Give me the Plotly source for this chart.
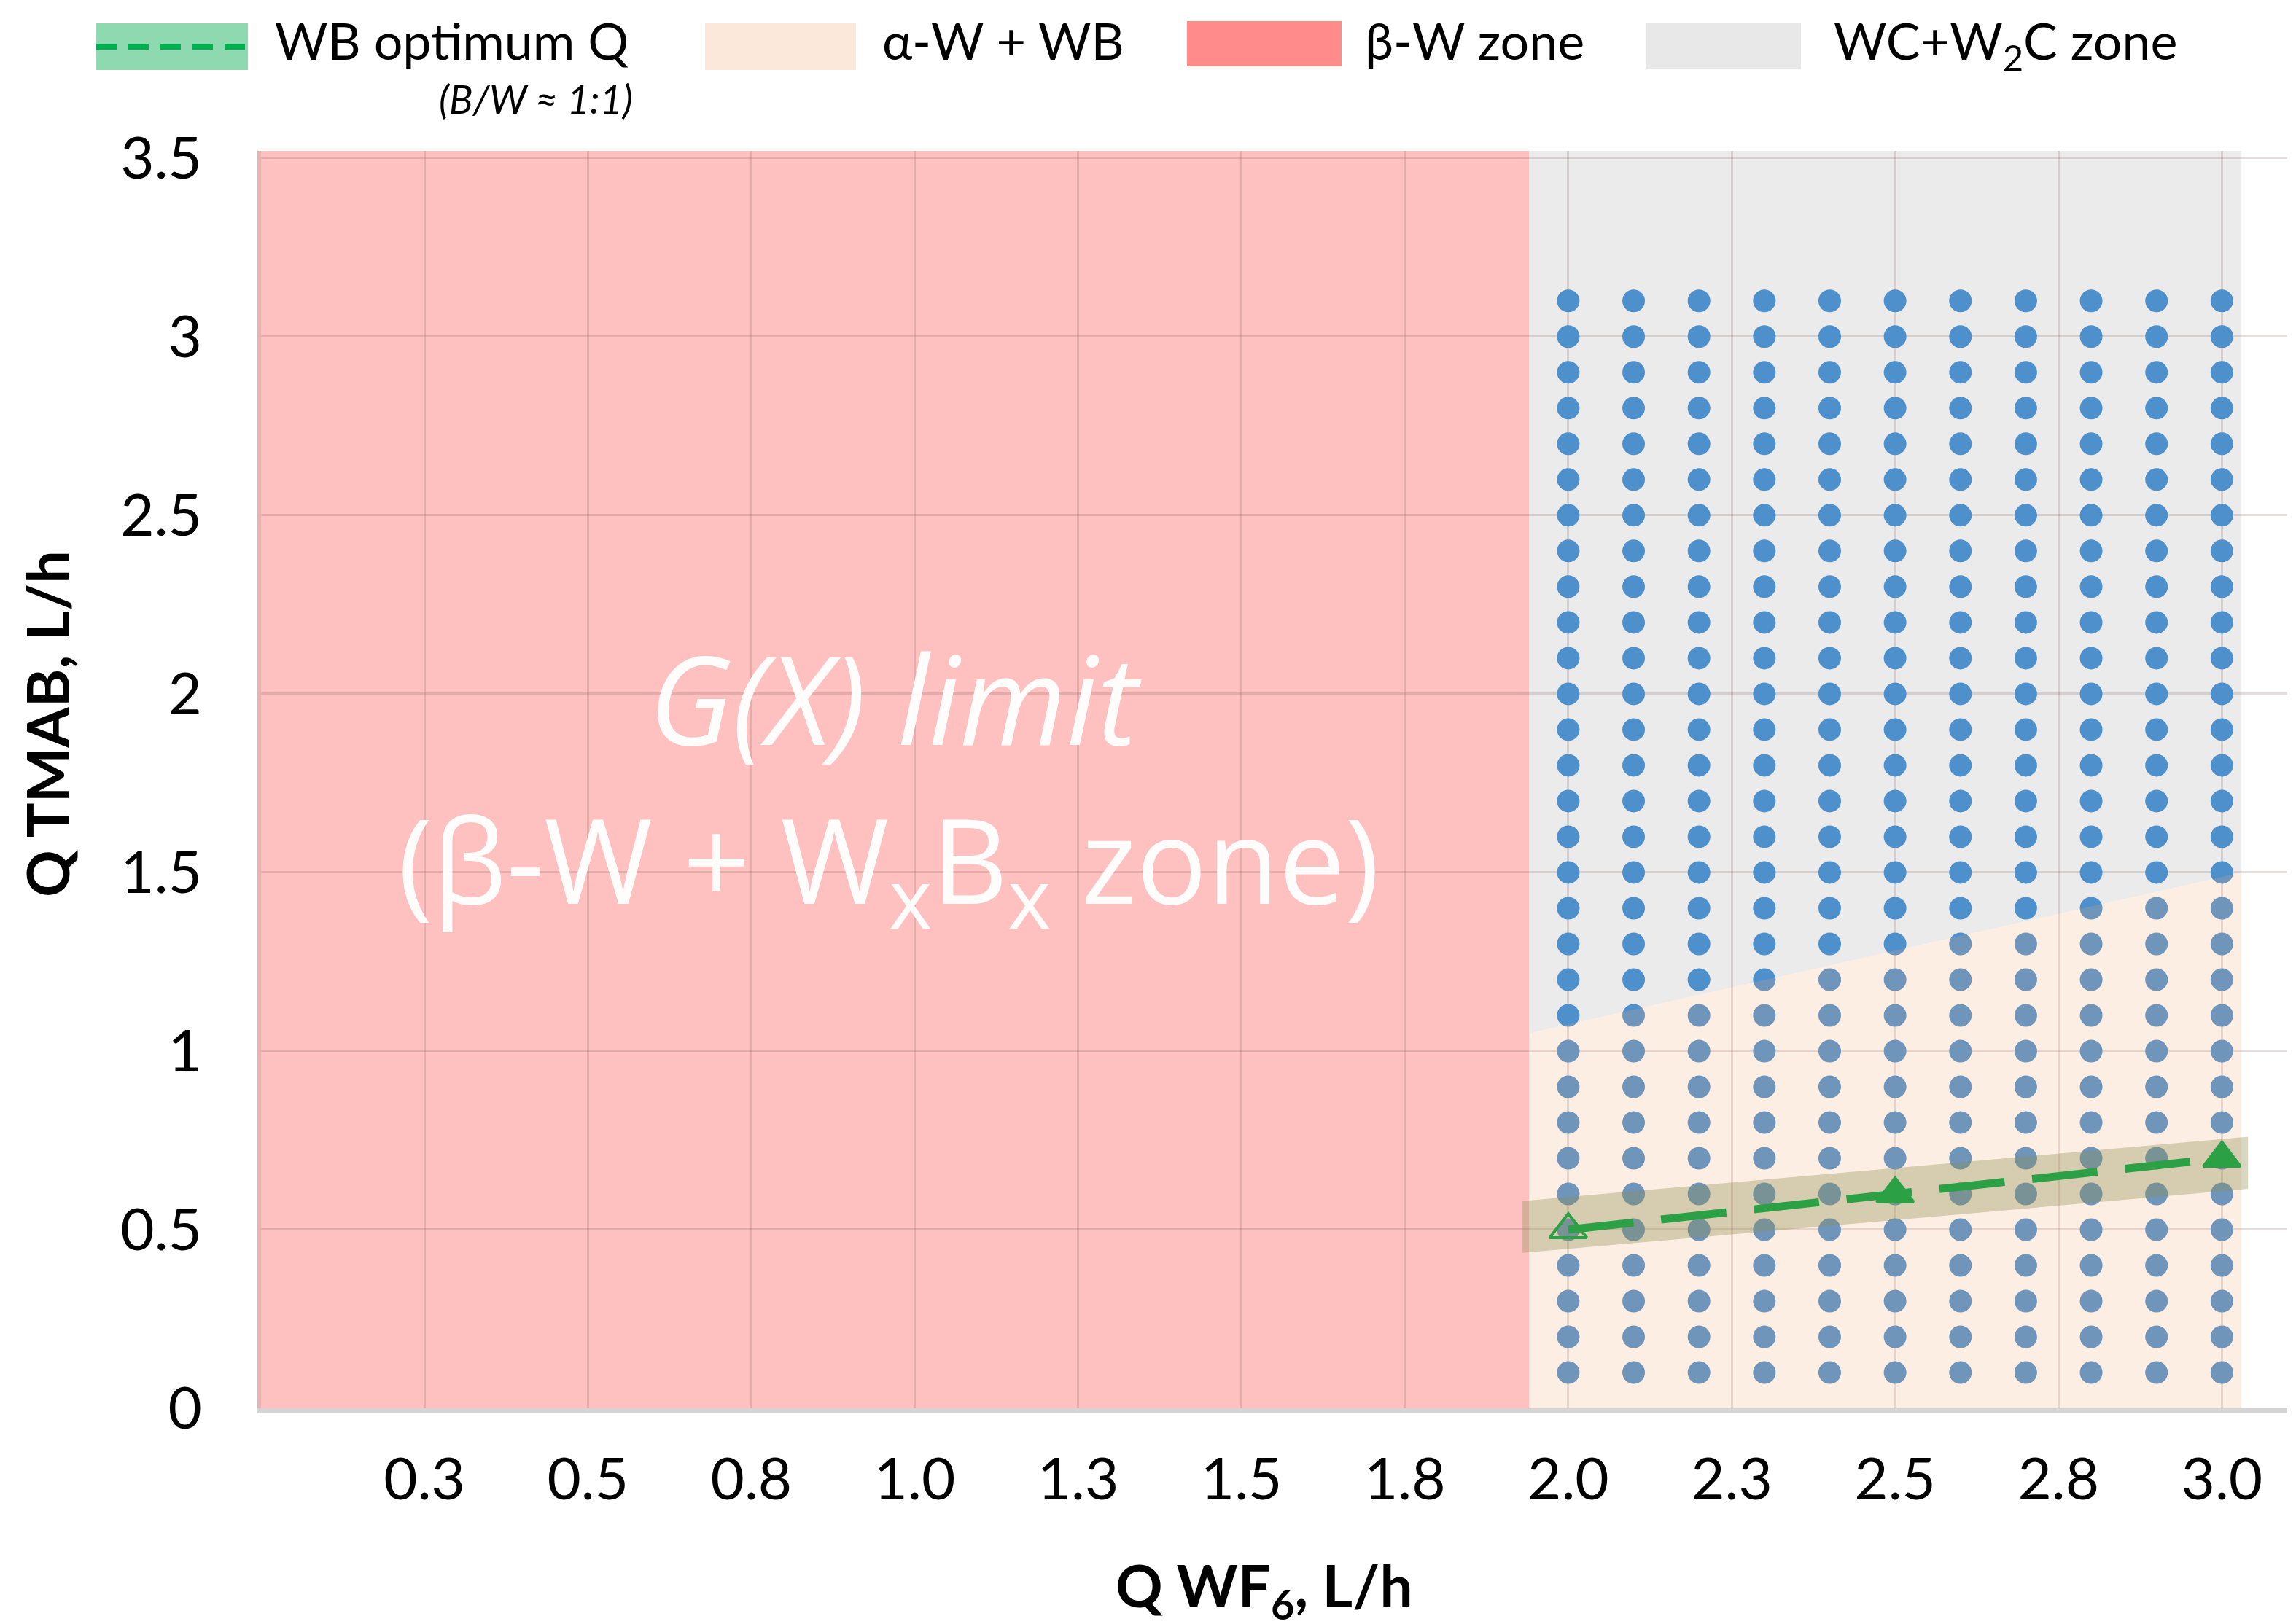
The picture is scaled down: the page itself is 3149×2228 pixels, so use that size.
import plotly.graph_objects as go

# axis ticks (category-style labels as in the original)
x_ticks = [0.25, 0.5, 0.75, 1.0, 1.25, 1.5, 1.75, 2.0, 2.25, 2.5, 2.75, 3.0]
x_ticklabels = ['0.3', '0.5', '0.8', '1.0', '1.3', '1.5', '1.8', '2.0', '2.3', '2.5', '2.8', '3.0']
y_ticks = [0, 0.5, 1.0, 1.5, 2.0, 2.5, 3.0, 3.5]
y_ticklabels = ['0', '0.5', '1', '1.5', '2', '2.5', '3', '3.5']

# experimental grid
grid_x = [2.0, 2.1, 2.2, 2.3, 2.4, 2.5, 2.6, 2.7, 2.8, 2.9, 3.0]
grid_y = [0.1, 0.2, 0.3, 0.4, 0.5, 0.6, 0.7, 0.8, 0.9, 1.0, 1.1, 1.2, 1.3, 1.4, 1.5, 1.6,
          1.7, 1.8, 1.9, 2.0, 2.1, 2.2, 2.3, 2.4, 2.5, 2.6, 2.7, 2.8, 2.9, 3.0, 3.1]

# zones
beta_x = [0, 1.94, 1.94, 0]
beta_y = [0, 0, 3.52, 3.52]
wc_x = [1.94, 3.03, 3.03, 1.94]
wc_y = [1.05, 1.5, 3.52, 3.52]
alpha_x = [1.94, 3.03, 3.03, 1.94]
alpha_y = [0, 0, 1.5, 1.05]
band_x = [1.93, 3.04, 3.04, 1.93]
band_y = [0.435, 0.614, 0.76, 0.58]

# WB optimum Q
opt_x = [2.0, 2.5, 3.0]
opt_y = [0.5, 0.6, 0.7]

W, H = 3149, 2228
L, R, T, B = 350, 3129, 199, 1924  # plot area in pixels


def px(p):
    return (p - L) / (R - L)


def py(p):
    return (B - p) / (B - T)


def path_of(xs, ys):
    pts = ' L '.join(f'{x},{y}' for x, y in zip(xs, ys))
    return 'M ' + pts + ' Z'


fig = go.Figure()

pts_x = [x for x in grid_x for y in grid_y]
pts_y = [y for x in grid_x for y in grid_y]
fig.add_trace(go.Scatter(x=pts_x, y=pts_y, mode='markers',
                         marker=dict(size=31, color='rgb(78,144,204)'),
                         showlegend=False, hoverinfo='skip'))

fig.add_trace(go.Scatter(x=alpha_x, y=alpha_y, fill='toself', mode='none',
                         fillcolor='rgba(245,170,120,0.2)', showlegend=False, hoverinfo='skip'))

fig.add_trace(go.Scatter(x=band_x, y=band_y, fill='toself', mode='none',
                         fillcolor='rgba(140,140,80,0.35)', showlegend=False, hoverinfo='skip'))

fig.add_trace(go.Scatter(x=opt_x, y=opt_y, mode='lines+markers',
                         line=dict(color='#2ca044', width=11, dash='90px,38px'),
                         marker=dict(size=44, color='#2ca044',
                                     symbol=['triangle-up-open', 'triangle-up', 'triangle-up'],
                                     line=dict(color='#2ca044', width=4)),
                         showlegend=False))

# background zones under the gridlines
fig.add_shape(type='path', path=path_of(beta_x, beta_y), xref='x', yref='y',
              fillcolor='rgb(255,192,192)', line=dict(width=0), layer='below')
fig.add_shape(type='path', path=path_of(wc_x, wc_y), xref='x', yref='y',
              fillcolor='rgb(235,235,235)', line=dict(width=0), layer='below')

# zone labels
fig.add_annotation(x=0.97, y=1.99, xref='x', yref='y', text='<i>G(X) limit</i>',
                   showarrow=False, font=dict(family='Open Sans', size=168, color='rgba(255,255,255,0.95)'))
fig.add_annotation(x=0.96, y=1.52, xref='x', yref='y', text='(β-W + W<sub>x</sub>B<sub>x</sub> zone)',
                   showarrow=False, font=dict(family='Open Sans', size=161, color='rgba(255,255,255,0.95)'))

# legend drawn by hand (wide swatches as in the original)
legend = [
    (124, 332, 24, 88, 'rgb(143,217,176)', 367, 'WB optimum Q'),
    (959, 1166, 24, 88, 'rgb(252,232,218)', 1200, 'α-W + WB'),
    (1620, 1832, 21, 83, 'rgb(255,139,139)', 1862, 'β-W zone'),
    (2250, 2462, 24, 86, 'rgb(232,232,232)', 2505, 'WC+W<sub>2</sub>C zone'),
]
for x0, x1, y0, y1, col, tx, label in legend:
    fig.add_shape(type='rect', xref='paper', yref='paper',
                  x0=px(x0), x1=px(x1), y0=py(y1), y1=py(y0),
                  fillcolor=col, line=dict(width=0))
    fig.add_annotation(x=px(tx), y=py(3), xref='paper', yref='paper',
                       text=label, showarrow=False, xanchor='left', yanchor='top',
                       font=dict(family='Lato', size=70, color='black'))
fig.add_shape(type='line', xref='paper', yref='paper',
              x0=px(124), x1=px(332), y0=py(56), y1=py(56),
              line=dict(color='rgb(0,176,80)', width=8, dash='28px,16px'))
fig.add_annotation(x=px(727), y=py(128), xref='paper', yref='paper',
                   text='<i>(B/W ≈ 1:1)</i>', showarrow=False,
                   xanchor='center', yanchor='middle',
                   font=dict(family='Lato', size=54, color='black'))

# axis titles
fig.add_annotation(x=px(56), y=py(985), xref='paper', yref='paper',
                   text='<b>Q TMAB, L/h</b>', textangle=-90, showarrow=False,
                   xanchor='center', yanchor='middle',
                   font=dict(family='Lato', size=80, color='black'))
fig.add_annotation(x=px(1726), y=py(2172), xref='paper', yref='paper',
                   text='<b>Q WF<sub>6</sub>, L/h</b>', showarrow=False,
                   xanchor='center', yanchor='middle',
                   font=dict(family='Lato', size=80, color='black'))

grid_col = 'rgba(120,90,90,0.2)'
fig.update_xaxes(range=[0, 3.1], tickvals=x_ticks, ticktext=x_ticklabels,
                 showgrid=True, gridcolor=grid_col, gridwidth=3, zeroline=False,
                 showline=True, linecolor='#d4d4d4', linewidth=6,
                 ticks='', ticklabelstandoff=23,
                 tickfont=dict(family='Lato', size=80, color='black'))
fig.update_yaxes(range=[0, 3.52], tickvals=y_ticks, ticktext=y_ticklabels,
                 showgrid=True, gridcolor=grid_col, gridwidth=3, zeroline=False,
                 showline=True, linecolor='rgba(225,160,160,0.8)', linewidth=5,
                 ticks='', ticklabelstandoff=60,
                 tickfont=dict(family='Lato', size=80, color='black'))

fig.update_layout(width=W, height=H, margin=dict(l=L, r=W - R, t=T, b=H - B),
                  plot_bgcolor='white', paper_bgcolor='white', showlegend=False)

fig.write_html("out.html")
